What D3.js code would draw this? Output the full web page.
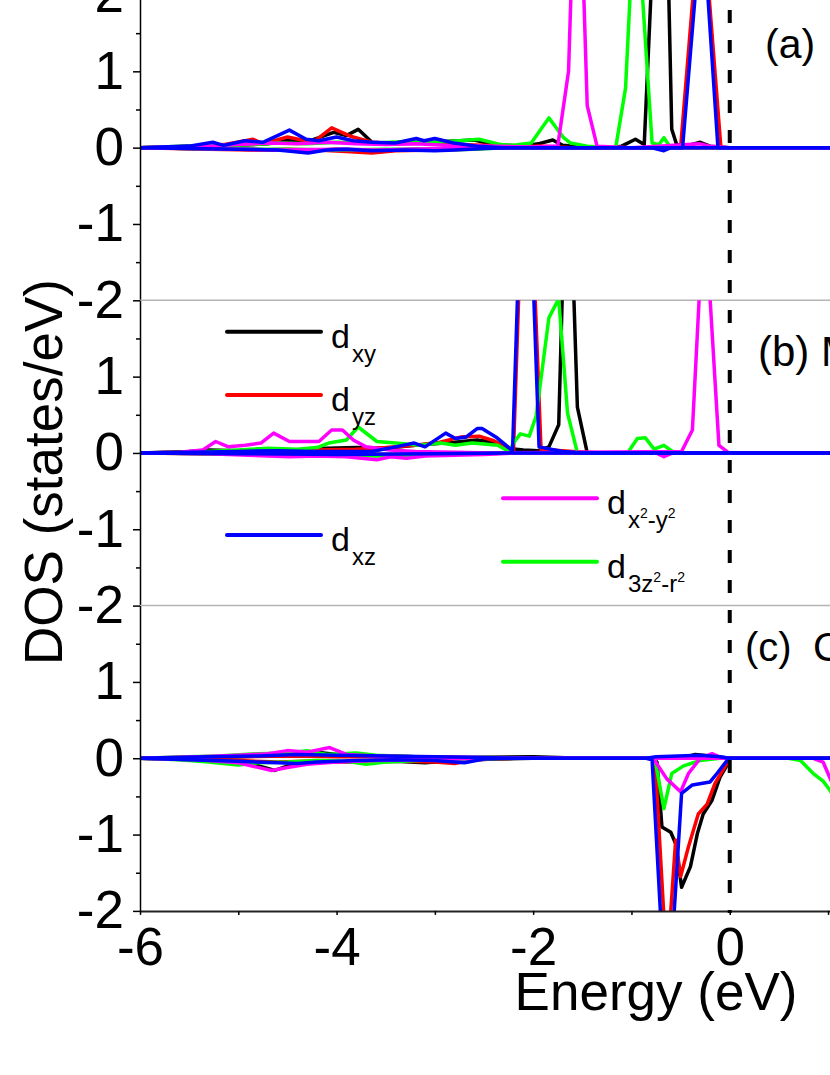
<!DOCTYPE html>
<html>
<head>
<meta charset="utf-8">
<script src="https://cdn.jsdelivr.net/npm/d3@7"></script>
<style>
  body { margin: 0; background: #fff; }
  svg { display: block; }
  text { font-family: "Liberation Sans", Arial, sans-serif; fill: #000; }
</style>
</head>
<body>
<svg width="830" height="1075"></svg>
<script>
// orbitals, in drawing order (blue ends on top)
var orbitals = ["dxy", "dyz", "d3z2-r2", "dx2-y2", "dxz"];
var colors = { "dxy": "#000000", "dyz": "#ff0000", "dxz": "#0000ff", "dx2-y2": "#ff00ff", "d3z2-r2": "#00ff00" };
var panelLabels = ["(a)", "(b) M", "(c)"];

var xTicks = [-6, -4, -2, 0];
var xMinorTicks = [-5, -3, -1, 1];
var yTicks = [-2, -1, 0, 1, 2];
var yMinorTicks = [-1.5, -0.5, 0.5, 1.5];

// [energy (eV), DOS] vertices, spin up (positive) and spin down (negative)
// panel (a)
var aUp = {
  "dxy": [[-6,0],[-5.3,0.02],[-5.0,0.03],[-4.7,0.05],[-4.5,0.1],[-4.3,0.08],[-4.18,0.13],[-4.03,0.2],[-3.9,0.16],[-3.78,0.24],[-3.64,0.07],[-3.4,0.05],[-3.1,0.06],[-2.9,0.08],[-2.6,0.1],[-2.4,0.04],[-2.1,0.02],[-1.95,0.05],[-1.8,0.1],[-1.7,0.03],[-1.5,0.01],[-1.2,0],[-1.1,0.02],[-0.96,0.11],[-0.87,0.04],[-0.68,5.5],[-0.59,0.24],[-0.54,0.04],[-0.45,0.02],[-0.3,0.07],[-0.2,0.02],[0,0],[1.1,0]],
  "dyz": [[-6,0],[-5.4,0.02],[-5.15,0.04],[-4.85,0.11],[-4.75,0.05],[-4.5,0.14],[-4.24,0.07],[-4.05,0.26],[-3.86,0.15],[-3.64,0.07],[-3.4,0.05],[-3.16,0.09],[-3.0,0.06],[-2.8,0.04],[-2.5,0.03],[-2.2,0.01],[-1.9,0.02],[-1.6,0],[-0.5,0],[-0.29,3.3],[-0.09,0],[1.1,0]],
  "dxz": [[-6,0],[-5.5,0.02],[-5.26,0.07],[-5.15,0.03],[-4.93,0.09],[-4.75,0.07],[-4.48,0.23],[-4.31,0.11],[-4.18,0.09],[-4.0,0.14],[-3.83,0.09],[-3.64,0.07],[-3.4,0.06],[-3.19,0.12],[-3.11,0.09],[-3.0,0.12],[-2.81,0.06],[-2.57,0.02],[-2.3,0],[-0.48,0],[-0.28,3.1],[-0.12,0],[1.1,0]],
  "d3z2-r2": [[-6,0],[-5.5,0.02],[-5.0,0.03],[-4.6,0.06],[-4.3,0.05],[-4.0,0.07],[-3.6,0.06],[-3.3,0.08],[-3.0,0.07],[-2.75,0.09],[-2.55,0.11],[-2.33,0.04],[-2.2,0.03],[-2.02,0.06],[-1.84,0.39],[-1.69,0.13],[-1.62,0.06],[-1.45,0.02],[-1.16,0],[-1.06,0.78],[-0.96,3.4],[-0.79,0.06],[-0.72,0.04],[-0.67,0.13],[-0.6,0],[1.1,0]],
  "dx2-y2": [[-6,0],[-5.3,0.02],[-5.0,0.04],[-4.7,0.06],[-4.4,0.05],[-4.1,0.07],[-3.8,0.05],[-3.5,0.04],[-3.2,0.05],[-2.9,0.03],[-2.5,0.02],[-2.0,0.01],[-1.75,0.02],[-1.64,1.0],[-1.55,4.7],[-1.45,0.55],[-1.35,0.02],[-1.0,0],[-0.3,0.05],[-0.2,0.02],[0,0],[1.1,0]]
};
var aDown = {
  "dxy": [[-6,0],[-5.0,-0.02],[-4.6,-0.03],[-4.3,-0.04],[-4.0,-0.02],[-3.6,-0.03],[-3.2,-0.02],[-2.8,-0.02],[-2.4,0],[1.1,0]],
  "dyz": [[-6,0],[-5.3,-0.02],[-4.85,-0.03],[-4.5,-0.02],[-4.2,-0.03],[-3.9,-0.05],[-3.64,-0.07],[-3.4,-0.04],[-3.0,-0.03],[-2.7,-0.02],[-2.4,0],[1.1,0]],
  "dxz": [[-6,0],[-5.5,-0.01],[-5.0,-0.02],[-4.6,-0.03],[-4.29,-0.07],[-4.1,-0.03],[-3.9,-0.02],[-3.64,-0.04],[-3.3,-0.03],[-3.0,-0.04],[-2.8,-0.03],[-2.5,-0.01],[-2.2,0],[-0.8,0],[-0.67,-0.04],[-0.6,0],[1.1,0]],
  "d3z2-r2": [[-6,0],[-5.0,-0.02],[-4.5,-0.02],[-4.0,-0.03],[-3.5,-0.02],[-3.0,-0.03],[-2.6,-0.02],[-2.3,0],[1.1,0]],
  "dx2-y2": [[-6,0],[-5.0,-0.02],[-4.6,-0.03],[-4.0,-0.02],[-3.6,-0.03],[-3.2,-0.02],[-2.8,-0.01],[-2.4,0],[1.1,0]]
};

// panel (b)
var bUp = {
  "dxy": [[-6,0],[-5.5,0.02],[-5.3,0.04],[-5.0,0.03],[-4.7,0.05],[-4.4,0.04],[-4.1,0.06],[-3.8,0.07],[-3.5,0.06],[-3.2,0.1],[-3.0,0.12],[-2.8,0.14],[-2.57,0.17],[-2.4,0.14],[-2.25,0.06],[-2.1,0.04],[-1.95,0.03],[-1.84,0.08],[-1.74,0.37],[-1.65,4.6],[-1.55,0.6],[-1.45,0],[1.1,0]],
  "dyz": [[-6,0],[-5.5,0.01],[-5.0,0.02],[-4.6,0.03],[-4.2,0.04],[-3.8,0.05],[-3.5,0.07],[-3.2,0.1],[-2.95,0.14],[-2.73,0.21],[-2.55,0.22],[-2.4,0.16],[-2.25,0.06],[-2.2,0.03],[-2.07,5.0],[-1.92,0.05],[-1.6,0.02],[-1.3,0],[1.1,0]],
  "dxz": [[-6,0],[-5.5,0.01],[-5.0,0.02],[-4.6,0.03],[-4.2,0.02],[-3.9,0.02],[-3.64,0.02],[-3.4,0.08],[-3.21,0.13],[-3.1,0.08],[-2.89,0.26],[-2.79,0.19],[-2.68,0.21],[-2.57,0.32],[-2.52,0.32],[-2.38,0.21],[-2.22,0.04],[-2.21,0.02],[-2.08,5.2],[-1.94,0.08],[-1.7,0.02],[-1.5,0],[1.1,0]],
  "d3z2-r2": [[-6,0],[-5.5,0.01],[-5.0,0.04],[-4.7,0.06],[-4.4,0.05],[-4.2,0.07],[-4.08,0.13],[-3.9,0.17],[-3.78,0.34],[-3.59,0.15],[-3.4,0.13],[-3.16,0.1],[-2.94,0.13],[-2.79,0.1],[-2.62,0.13],[-2.36,0.1],[-2.25,0.02],[-2.2,0.13],[-2.13,0.25],[-2.04,0.22],[-1.97,0.48],[-1.84,1.77],[-1.74,2.02],[-1.65,0.52],[-1.55,0],[-1.04,0],[-0.94,0.19],[-0.86,0.2],[-0.77,0.05],[-0.67,0.1],[-0.56,0],[1.1,0]],
  "dx2-y2": [[-6,0],[-5.6,0.01],[-5.36,0.04],[-5.23,0.15],[-5.1,0.08],[-4.93,0.1],[-4.77,0.13],[-4.64,0.26],[-4.48,0.15],[-4.34,0.15],[-4.18,0.15],[-4.05,0.3],[-3.94,0.3],[-3.83,0.17],[-3.7,0.08],[-3.46,0.04],[-3.2,0.02],[-2.8,0.01],[-2.4,0],[-0.49,0.02],[-0.38,0.3],[-0.26,3.3],[-0.11,0.1],[-0.01,0],[1.1,0]]
};
var bDown = {
  "dxy": [[-6,0],[-5.0,-0.01],[-4.0,-0.02],[-3.0,-0.02],[-2.3,0],[1.1,0]],
  "dyz": [[-6,0],[-4.5,-0.02],[-3.5,-0.02],[-2.5,-0.01],[-2.2,0],[1.1,0]],
  "dxz": [[-6,0],[-5.0,-0.01],[-4.0,-0.02],[-3.0,-0.01],[-2.2,0],[1.1,0]],
  "d3z2-r2": [[-6,0],[-4.5,-0.02],[-3.6,-0.04],[-3.0,-0.02],[-2.3,0],[1.1,0]],
  "dx2-y2": [[-6,0],[-5.3,-0.01],[-4.9,-0.03],[-4.48,-0.05],[-4.2,-0.04],[-3.9,-0.05],[-3.59,-0.09],[-3.45,-0.05],[-3.29,-0.07],[-3.1,-0.04],[-2.8,-0.03],[-2.5,-0.02],[-2.2,0],[-0.75,0],[-0.67,-0.05],[-0.58,0],[1.1,0]]
};

// panel (c)
var cUp = {
  "dxy": [[-6,0],[-5.0,0.02],[-4.4,0.04],[-4.2,0.08],[-4.0,0.05],[-3.6,0.03],[-3.2,0.02],[-2.7,0.01],[-2.0,0.02],[-1.5,0],[-0.5,0],[-0.35,0.05],[-0.2,0.03],[0,0],[1.1,0]],
  "dyz": [[-6,0],[-5.0,0.02],[-4.5,0.03],[-4.0,0.02],[-3.4,0.02],[-2.8,0.01],[-2.3,0],[1.1,0]],
  "dxz": [[-6,0],[-5.3,0.02],[-4.8,0.03],[-4.4,0.05],[-4.0,0.04],[-3.5,0.03],[-3.0,0.02],[-2.5,0.01],[-2.2,0],[-0.85,0],[-0.75,0.02],[-0.3,0.04],[-0.1,0.02],[0,0],[1.1,0]],
  "d3z2-r2": [[-6,0],[-5.5,0.02],[-5.2,0.03],[-4.8,0.06],[-4.5,0.07],[-4.3,0.1],[-4.1,0.05],[-3.8,0.07],[-3.6,0.04],[-3.2,0.02],[-2.8,0.01],[-2.3,0],[1.1,0]],
  "dx2-y2": [[-6,0],[-5.4,0.02],[-5.0,0.04],[-4.7,0.06],[-4.5,0.1],[-4.3,0.08],[-4.07,0.14],[-3.9,0.05],[-3.6,0.03],[-3.2,0.02],[-2.6,0.01],[-2.3,0],[-0.3,0],[-0.18,0.06],[-0.07,0],[1.1,0]]
};
var cDown = {
  "dxy": [[-6,0],[-5.2,-0.03],[-4.9,-0.06],[-4.63,-0.16],[-4.45,-0.08],[-4.2,-0.04],[-3.8,-0.05],[-3.4,-0.04],[-3.1,-0.06],[-2.8,-0.03],[-2.4,-0.01],[-2.0,0],[-0.79,0],[-0.74,-0.05],[-0.69,-0.9],[-0.6,-0.97],[-0.55,-1.12],[-0.49,-1.69],[-0.4,-1.42],[-0.33,-0.99],[-0.27,-0.73],[-0.18,-0.55],[-0.1,-0.25],[-0.01,-0.05],[0,0],[1.1,0]],
  "dyz": [[-6,0],[-5.0,-0.03],[-4.6,-0.05],[-4.3,-0.04],[-4.0,-0.05],[-3.6,-0.03],[-3.0,-0.05],[-2.8,-0.07],[-2.6,-0.02],[-2.2,0],[-0.8,0],[-0.76,-0.02],[-0.64,-2.75],[-0.55,-1.07],[-0.5,-1.55],[-0.42,-1.16],[-0.32,-0.73],[-0.23,-0.6],[-0.15,-0.33],[-0.03,-0.07],[0,0],[1.1,0]],
  "dxz": [[-6,0],[-5.5,-0.02],[-5.0,-0.04],[-4.6,-0.06],[-4.4,-0.07],[-4.2,-0.05],[-3.8,-0.03],[-3.4,-0.02],[-3.0,-0.03],[-2.7,-0.06],[-2.5,-0.01],[-2.2,0],[-0.85,0],[-0.79,-0.02],[-0.64,-3.55],[-0.49,-0.46],[-0.38,-0.35],[-0.2,-0.31],[-0.13,-0.2],[-0.01,0],[1.1,0]],
  "d3z2-r2": [[-6,0],[-5.6,-0.02],[-5.3,-0.05],[-5.0,-0.09],[-4.8,-0.06],[-4.5,-0.05],[-4.2,-0.03],[-3.9,-0.04],[-3.7,-0.08],[-3.5,-0.05],[-3.0,-0.02],[-2.5,-0.01],[-2.2,0],[-0.8,0],[-0.76,-0.02],[-0.67,-0.66],[-0.59,-0.2],[-0.47,-0.1],[-0.3,-0.03],[-0.1,0],[0.6,0],[0.72,-0.03],[0.85,-0.2],[0.95,-0.3],[1.02,-0.42],[1.1,-0.6]],
  "dx2-y2": [[-6,0],[-5.4,-0.02],[-5.0,-0.06],[-4.8,-0.12],[-4.66,-0.16],[-4.5,-0.12],[-4.3,-0.08],[-4.0,-0.05],[-3.6,-0.03],[-3.2,-0.02],[-2.8,-0.01],[-2.4,0],[-0.78,0],[-0.64,-0.27],[-0.5,-0.44],[-0.42,-0.2],[-0.3,0],[0.85,0],[0.95,-0.05],[1.0,-0.2],[1.1,-0.5]]
};

var panels = [[aUp, aDown], [bUp, bDown], [cUp, cDown]];

var svg = d3.select("svg");
var width = 830, height = 1075;
var left = 140, panelTop = -5, panelH = 305.3;

var x = d3.scaleLinear().domain([-6, 1.02]).range([left, width]);

function fmt(d) { return String(d); }

// panels
panels.forEach(function(p, i) {
  var top = panelTop + i * panelH;
  var y = d3.scaleLinear().domain([-2, 2]).range([top + panelH, top]);
  var g = svg.append("g");

  // separator line at the top of panels (b) and (c)
  if (i > 0) {
    g.append("line")
      .attr("x1", left).attr("x2", width)
      .attr("y1", y(2)).attr("y2", y(2))
      .attr("stroke", "#b4b4b4").attr("stroke-width", 1.5);
  }

  svg.append("clipPath").attr("id", "clip" + i)
    .append("rect")
    .attr("x", left).attr("y", top)
    .attr("width", width - left).attr("height", panelH);

  var line = d3.line()
    .x(function(d) { return x(d[0]); })
    .y(function(d) { return y(d[1]); });

  var lines = g.append("g").attr("clip-path", "url(#clip" + i + ")");
  orbitals.forEach(function(o) {
    [p[0][o], p[1][o]].forEach(function(s) {
      lines.append("path")
        .attr("d", line(s))
        .attr("fill", "none")
        .attr("stroke", colors[o])
        .attr("stroke-width", 3.5)
        .attr("stroke-linejoin", "round");
    });
  });

  // left axis, major and minor ticks
  var ax = g.append("g").attr("transform", "translate(" + left + ",0)")
    .call(d3.axisLeft(y)
      .tickValues(i == 0 ? yTicks : yTicks.slice(0, 4))
      .tickFormat(fmt).tickSize(7).tickSizeOuter(0).tickPadding(9));
  g.append("g").attr("transform", "translate(" + left + ",0)")
    .call(d3.axisLeft(y).tickValues(yMinorTicks).tickFormat("").tickSize(4).tickSizeOuter(0))
    .select(".domain").remove();
  g.selectAll(".tick line").attr("stroke", "#000").attr("stroke-width", 1.5);
  ax.select(".domain").attr("stroke", "#000").attr("stroke-width", 1.5);
  ax.selectAll("text")
    .attr("font-size", 53)
    .attr("font-family", "'Liberation Sans', Arial, sans-serif")
    .attr("fill", "#000");
});

// bottom axis
var by = panelTop + 3 * panelH;
var xa = svg.append("g").attr("transform", "translate(0," + by + ")")
  .call(d3.axisBottom(x).tickValues(xTicks).tickFormat(fmt).tickSize(4).tickSizeOuter(0).tickPadding(12));
svg.append("g").attr("transform", "translate(0," + by + ")")
  .call(d3.axisBottom(x).tickValues(xMinorTicks).tickFormat("").tickSize(4).tickSizeOuter(0))
  .select(".domain").remove();
xa.select(".domain").attr("stroke", "#222").attr("stroke-width", 2);
svg.selectAll(".tick line").attr("stroke-width", 1.5);
xa.selectAll("text")
  .attr("font-size", 53)
  .attr("font-family", "'Liberation Sans', Arial, sans-serif")
  .attr("fill", "#000");

// Fermi level
svg.append("line")
  .attr("x1", x(0)).attr("x2", x(0))
  .attr("y1", 10).attr("y2", by + 2)
  .attr("stroke", "#000")
  .attr("stroke-width", 4)
  .attr("stroke-dasharray", "13,17");

// axis titles
svg.append("text")
  .text("Energy (eV)")
  .attr("x", 656).attr("y", 1010)
  .attr("font-size", 53)
  .attr("text-anchor", "middle");

svg.append("text")
  .text("DOS (states/eV)")
  .attr("transform", "translate(62,472) rotate(-90)")
  .attr("font-size", 53)
  .attr("text-anchor", "middle");

// panel labels
svg.append("text").text(panelLabels[0]).attr("x", 765).attr("y", 58).attr("font-size", 41);
svg.append("text").text(panelLabels[1]).attr("x", 758).attr("y", 366).attr("font-size", 42);
svg.append("text").text(panelLabels[2]).attr("x", 745).attr("y", 661).attr("font-size", 40);
svg.append("text").text("C").attr("x", 813).attr("y", 661).attr("font-size", 40);

// legend
var legend = svg.append("g");
var legendItems = [
  { o: "dxy", x: 227, y: 331.7, sub: [["xy", 0]] },
  { o: "dyz", x: 227, y: 395, sub: [["yz", 0]] },
  { o: "dxz", x: 227, y: 535, sub: [["xz", 0]] },
  { o: "dx2-y2", x: 503, y: 498.3, sub: [["x", 0], ["2", 1], ["-y", 0], ["2", 1]] },
  { o: "d3z2-r2", x: 503, y: 561.7, sub: [["3z", 0], ["2", 1], ["-r", 0], ["2", 1]] }
];
legendItems.forEach(function(d) {
  legend.append("line")
    .attr("x1", d.x).attr("x2", d.x + 94)
    .attr("y1", d.y).attr("y2", d.y)
    .attr("stroke", colors[d.o])
    .attr("stroke-width", 4)
    .attr("stroke-linecap", "round");
  legend.append("text")
    .text("d")
    .attr("x", d.x + 104).attr("y", d.y + 16)
    .attr("font-size", 34);
  var t = legend.append("text")
    .attr("x", d.x + 125).attr("y", d.y + 30)
    .attr("font-size", 24);
  var up = 0;
  d.sub.forEach(function(s) {
    var dy = s[1] == 1 ? -10 : (up ? 10 : 0);
    t.append("tspan")
      .text(s[0])
      .attr("dy", dy)
      .attr("font-size", s[1] == 1 ? 14 : 24);
    up = s[1];
  });
});
</script>
</body>
</html>
